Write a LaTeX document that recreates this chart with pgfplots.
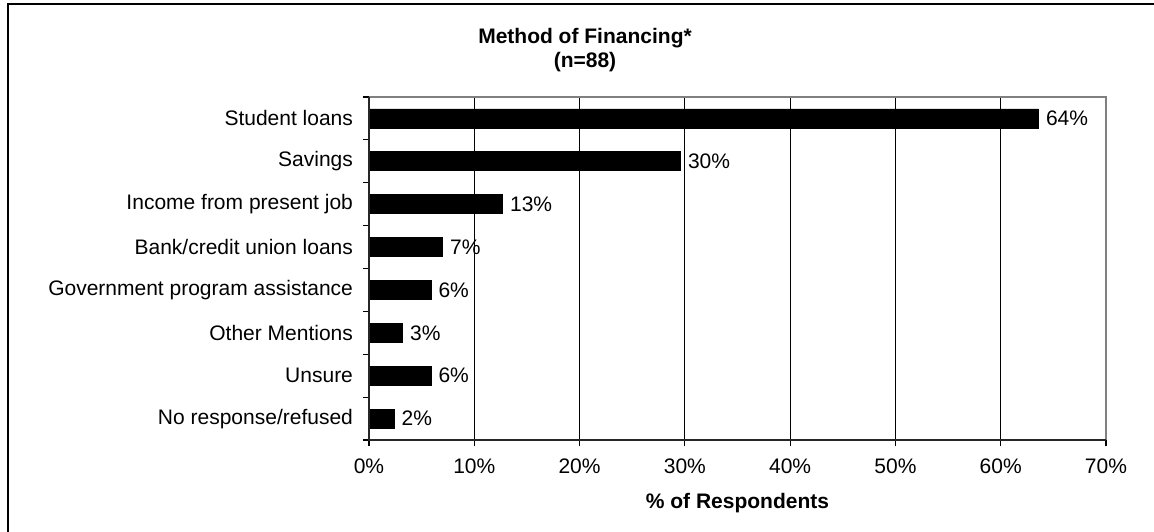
\documentclass[border=0pt]{standalone}
\usepackage{fontspec}
\setmainfont{Liberation Sans}
\usepackage{pgfplots}
\pgfplotsset{compat=1.18}
\begin{document}
\begin{tikzpicture}[font=\fontsize{10.5}{12}\selectfont]
\begin{axis}[
    scale only axis,
    width=368.5pt,
    height=171.5pt,
    xbar,
    bar width=9.5pt,
    xmin=0, xmax=70,
    ymin=-0.5, ymax=7.5,
    xtick={0,10,...,70},
    xticklabel={\pgfmathprintnumber{\tick}\%},
    /pgf/number format/assume math mode=true,
    xmajorgrids,
    grid style={black, line width=0.5pt},
    % tick marks between the categories, names at the centres
    ytick={-0.5,0.5,...,7.5},
    yticklabels={},
    extra y ticks={0,...,7},
    extra y tick labels={No response/refused, Unsure, Other Mentions,
        Government program assistance, Bank/credit union loans,
        Income from present job, Savings, Student loans},
    extra y tick style={major tick length=0pt, grid=none,
        yticklabel style={xshift=-4.5pt}},
    major tick length=3pt,
    tick align=outside,
    tick pos=left,
    tick style={black, line width=0.6pt},
    xticklabel style={yshift=-3pt},
    xlabel={\bfseries\% of Respondents},
    xlabel style={yshift=-3pt},
    axis line style={draw=none},
    nodes near coords,
    point meta=explicit symbolic,
    nodes near coords style={font=\fontsize{10.5}{12}\selectfont,
        anchor=west, inner sep=3.5pt},
    after end axis/.code={
        \draw[gray, line width=1pt] (rel axis cs:0,1) -- (rel axis cs:1,1) -- (rel axis cs:1,0);
        \draw[black!85, line width=0.8pt] (rel axis cs:0,1) -- (rel axis cs:0,0) -- (rel axis cs:1,0);
    },
]
\addplot[fill=black, draw=black] coordinates {
    (63.6,7) [64\%]
    (29.6,6) [30\%]
    (12.7,5) [13\%]
    (7.0,4) [7\%]
    (5.9,3) [6\%]
    (3.2,2) [3\%]
    (5.9,1) [6\%]
    (2.4,0) [2\%]
};
\end{axis}
\pgfresetboundingbox
\path[use as bounding box] (-184.5pt,-45.5pt) rectangle (392.5pt,220pt);
\draw[line width=1pt] (-180.5pt,-60pt) -- (-180.5pt,218pt) -- (420pt,218pt);
\node[font=\fontsize{10.5}{12}\selectfont\bfseries, align=center] at (108pt,195pt)
    {Method of Financing*\\(n=88)};
\end{tikzpicture}
\end{document}
